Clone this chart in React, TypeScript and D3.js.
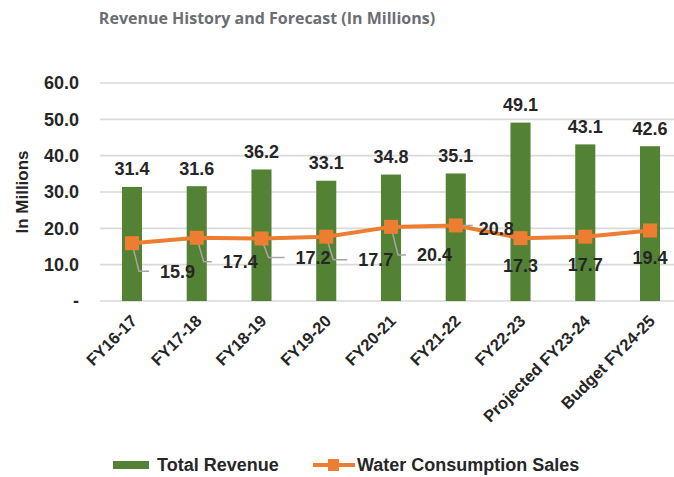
import React from "react";
import * as d3 from "d3";

const categories = ["FY16-17", "FY17-18", "FY18-19", "FY19-20", "FY20-21", "FY21-22", "FY22-23", "Projected FY23-24", "Budget FY24-25"];
const totalRevenue = [31.4, 31.6, 36.2, 33.1, 34.8, 35.1, 49.1, 43.1, 42.6];
const waterSales = [15.9, 17.4, 17.2, 17.7, 20.4, 20.8, 17.3, 17.7, 19.4];
const yTicks = [0, 10, 20, 30, 40, 50, 60];

// label placement for the line series (layout only)
const lineLabelDx = [28, 26, 34, 32, 26, 23, 0, 0, 0];
const lineLabelDy = [28, 24, 19, 23, 28, 3, 27, 28, 27];
const lineLabelAnchor = ["start", "start", "start", "start", "start", "start", "middle", "middle", "middle"];
const leaderKind = ["elbow", "elbow", "elbow", "elbow", "elbow", "flat", "none", "none", "none"];

const W = 674, H = 477;
const GREEN = "#548235";
const ORANGE = "#ED7D31";
const FONT = "'Liberation Sans', Arial, sans-serif";

export default function App() {
  const x = d3.scaleBand<string>().domain(categories).range([99.6, 682.4]).paddingInner(0.69).paddingOuter(0.345);
  const y = d3.scaleLinear().domain([0, 60]).range([301, 83]);
  const cx = (c: string) => (x(c) as number) + x.bandwidth() / 2;
  const line = d3.line<number>().x((_, i) => cx(categories[i])).y((v) => y(v));

  return (
    <svg width={W} height={H} style={{ position: "absolute", left: 0, top: 0, background: "#fff" }}>
      <text x={267} y={24} textAnchor="middle" fontFamily="'Open Sans', sans-serif" fontWeight={700} fontSize={16} fill="#6b6e73">
        Revenue History and Forecast (In Millions)
      </text>
      {yTicks.map((t) => (
        <g key={t}>
          <line x1={100} x2={W} y1={y(t)} y2={y(t)} stroke="#d9d9d9" strokeWidth={1.6} />
          <text x={79} y={y(t)} dy="0.36em" textAnchor="end" fontFamily={FONT} fontWeight={700} fontSize={18} fill="#262626">
            {t === 0 ? "-" : t.toFixed(1)}
          </text>
        </g>
      ))}
      <text transform={`translate(28,192) rotate(-90)`} textAnchor="middle" fontFamily={FONT} fontWeight={700} fontSize={17} fill="#262626">
        In Millions
      </text>
      {categories.map((c, i) => (
        <g key={c}>
          <rect x={x(c)} y={y(totalRevenue[i])} width={x.bandwidth()} height={y(0) - y(totalRevenue[i])} fill={GREEN} />
          <text x={cx(c)} y={y(totalRevenue[i]) - 18} dy="0.36em" textAnchor="middle" fontFamily={FONT} fontWeight={700} fontSize={18} fill="#262626">
            {totalRevenue[i].toFixed(1)}
          </text>
          <text transform={`translate(${cx(c) + 2},${318}) rotate(-45)`} textAnchor="end" dy="0.35em" fontFamily={FONT} fontWeight={700} fontSize={16.5} fill="#262626">
            {c}
          </text>
        </g>
      ))}
      <path d={line(waterSales) || ""} fill="none" stroke={ORANGE} strokeWidth={4} />
      {waterSales.map((v, i) => {
        const px = cx(categories[i]);
        const py = y(v);
        const lx = px + lineLabelDx[i];
        const ly = py + lineLabelDy[i];
        let leader = null;
        if (leaderKind[i] === "elbow") {
          leader = <polyline points={`${px},${py} ${px + 7},${ly} ${lx - 11},${ly}`} fill="none" stroke="#a6a6a6" strokeWidth={1.5} />;
        } else if (leaderKind[i] === "flat") {
          leader = <polyline points={`${px},${py} ${lx - 6},${py}`} fill="none" stroke="#a6a6a6" strokeWidth={1.5} />;
        }
        return (
          <g key={i}>
            {leader}
            <rect x={px - 7} y={py - 7} width={14} height={14} fill={ORANGE} />
            <text x={lx} y={ly} dy="0.36em" textAnchor={lineLabelAnchor[i] as any} fontFamily={FONT} fontWeight={700} fontSize={18} fill="#262626">
              {v.toFixed(1)}
            </text>
          </g>
        );
      })}
      <g>
        <rect x={113} y={461} width={36} height={8} fill={GREEN} />
        <text x={157} y={465} dy="0.36em" fontFamily={FONT} fontWeight={700} fontSize={18} fill="#262626">Total Revenue</text>
        <line x1={313} x2={355} y1={465} y2={465} stroke={ORANGE} strokeWidth={4} />
        <rect x={328} y={459} width={11} height={12} fill={ORANGE} />
        <text x={357} y={465} dy="0.36em" fontFamily={FONT} fontWeight={700} fontSize={18} fill="#262626">Water Consumption Sales</text>
      </g>
    </svg>
  );
}
